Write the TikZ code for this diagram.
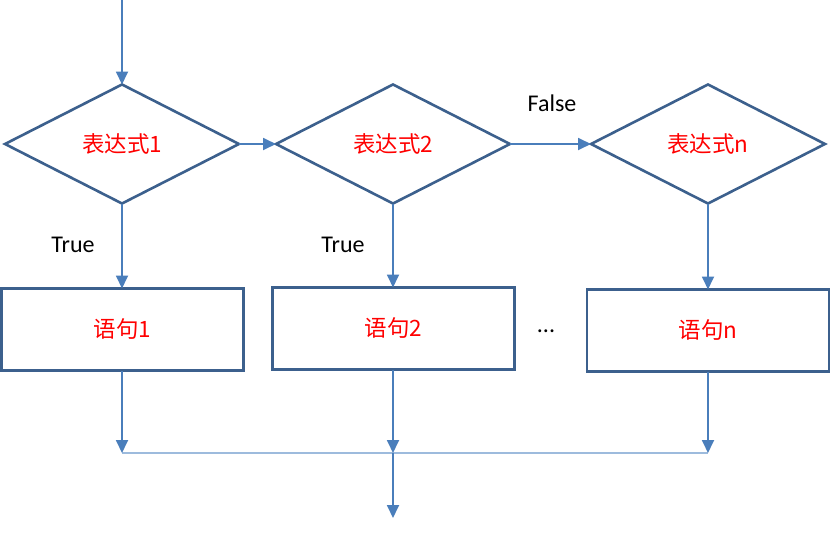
\documentclass[tikz,border=0pt]{standalone}
\usepackage{fontspec}
\setmainfont{Carlito}
\newfontfamily\cjk{Noto Sans CJK SC}
\usetikzlibrary{shapes.geometric,arrows.meta}
\definecolor{outline}{RGB}{60,96,141}
\definecolor{arrowc}{RGB}{74,126,187}
\definecolor{joinc}{RGB}{157,187,221}
\definecolor{txtred}{RGB}{255,0,0}
\tikzset{
  cond/.style={diamond, draw=outline, line width=2.6pt, aspect=1.97, minimum width=234pt, minimum height=119pt, inner sep=0pt, outer sep=0pt, font=\cjk\fontsize{22.5}{26}\selectfont, text=txtred},
  stmt/.style={rectangle, draw=outline, line width=2.6pt, minimum width=242pt, minimum height=82pt, inner sep=0pt, outer sep=0pt, font=\cjk\fontsize{22.5}{26}\selectfont, text=txtred},
  flow/.style={draw=arrowc, line width=1.8pt, -{Triangle[width=12pt,length=13pt]}},
  joinline/.style={draw=joinc, line width=1.8pt},
  lab/.style={font=\fontsize{24}{28}\selectfont, text=black, inner sep=0pt}
}
\begin{document}
\begin{tikzpicture}[x=1pt,y=-1pt]
\useasboundingbox[fill=white] (0,0) rectangle (831,533);
\node[cond] (d1) at (122,144) {表达式1};
\node[cond] (d2) at (393,144) {表达式2};
\node[cond] (d3) at (708,144) {表达式n};
\node[stmt] (b1) at (122.5,329.5) {语句1};
\node[stmt] (b2) at (393.5,328.5) {语句2};
\node[stmt] (b3) at (708,330.5) {语句n};
\coordinate (start) at (122,0);
\coordinate (j1) at (122,453);
\coordinate (j2) at (393,453);
\coordinate (j3) at (708,453);
\coordinate (endp) at (393,518);
\draw[flow] (start) -- (d1.north);
\draw[flow] (d1.east) -- (d2.west);
\draw[flow] (d2.east) -- (d3.west);
\draw[flow] (d1.south) -- (d1.south |- b1.north);
\draw[flow] (d2.south) -- (d2.south |- b2.north);
\draw[flow] (d3.south) -- (d3.south |- b3.north);
\draw[joinline] (j1) -- (j3);
\draw[flow] (b1.south -| j1) -- (j1);
\draw[flow] (b2.south -| j2) -- (j2);
\draw[flow] (b3.south -| j3) -- (j3);
\draw[flow] (j2) -- (endp);
\node[lab] (lfalse) at (552,103) {False};
\node[lab] (ltrue1) at (73,245) {True};
\node[lab] (ltrue2) at (343,245) {True};
\node[lab] (dots) at (546,331) {...};
\end{tikzpicture}
\end{document}
